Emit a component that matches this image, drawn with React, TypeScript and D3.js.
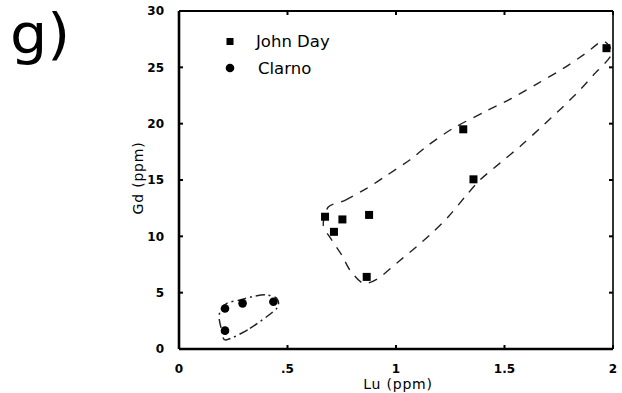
import React from "react";
import * as d3 from "d3";

const W = 622;
const H = 393;

const xTicks = [0, 0.5, 1, 1.5, 2];
const xTickLabels = ["0", ".5", "1", "1.5", "2"];
const yTicks = [0, 5, 10, 15, 20, 25, 30];

// John Day (squares)
const johnDayLu = [1.97, 1.31, 1.357, 0.673, 0.753, 0.876, 0.714, 0.865];
const johnDayGd = [26.7, 19.5, 15.06, 11.74, 11.5, 11.9, 10.4, 6.4];

// Clarno (circles)
const clarnoLu = [0.212, 0.293, 0.435, 0.212];
const clarnoGd = [3.6, 4.05, 4.2, 1.63];

// Envelope around John Day
const jdEnvLu = [0.688, 0.765, 0.865, 0.949, 1.065, 1.149, 1.264, 1.41, 1.533, 1.656, 1.771, 1.871, 1.948, 1.986, 1.986, 1.909, 1.848, 1.764, 1.664, 1.579, 1.479, 1.387, 1.318, 1.241, 1.172, 1.095, 1.011, 0.918, 0.849, 0.788, 0.75, 0.704, 0.665];
const jdEnvGd = [12.6, 13.2, 14.26, 15.3, 16.8, 18.1, 19.6, 21.06, 22.25, 23.6, 24.9, 26.2, 27.3, 26.8, 25.9, 24.3, 23.0, 21.4, 19.6, 18.1, 16.5, 15.0, 13.5, 11.74, 10.4, 9.08, 7.75, 6.27, 5.83, 7.0, 8.34, 9.67, 11.0];

// Envelope around Clarno
const clEnvLu = [0.215, 0.327, 0.45, 0.45, 0.404, 0.35, 0.281, 0.22, 0.189, 0.186, 0.197];
const clEnvGd = [0.8, 1.83, 3.6, 4.5, 4.8, 4.7, 4.35, 4.05, 3.3, 2.57, 1.68];

const FONT = "'DejaVu Sans', sans-serif";

export default function App() {
  const left = 179;
  const right = 613;
  const top = 11;
  const bottom = 349;
  const x = d3.scaleLinear().domain([0, 2]).range([left, right]);
  const y = d3.scaleLinear().domain([0, 30]).range([bottom, top]);

  const line = d3
    .line<[number, number]>()
    .x((d) => x(d[0]))
    .y((d) => y(d[1]))
    .curve(d3.curveCardinalClosed.tension(0.2));

  const jdPath = line(jdEnvLu.map((v, i) => [v, jdEnvGd[i]] as [number, number])) || "";
  const clPath = line(clEnvLu.map((v, i) => [v, clEnvGd[i]] as [number, number])) || "";

  const sq = 8;
  const tickLen = 4;

  return (
    <svg width={W} height={H} style={{ position: "absolute", left: 0, top: 0, background: "#fff" }}>
      <rect x={0} y={0} width={W} height={H} fill="#fff" />
      <text transform="translate(10,53) scale(1.4,1.3)" fontFamily={FONT} fontSize={42} fill="#000">g)</text>

      {/* envelopes */}
      <path d={jdPath} fill="none" stroke="#222" strokeWidth={1.4} strokeDasharray="9,8" />
      <path d={clPath} fill="none" stroke="#222" strokeWidth={1.5} strokeDasharray="9,4,2,4" />

      {/* frame */}
      <line x1={left} x2={left} y1={top} y2={bottom} stroke="#000" strokeWidth={2.6} />
      <line x1={left} x2={right} y1={bottom} y2={bottom} stroke="#000" strokeWidth={2.6} />
      <line x1={left} x2={right} y1={top} y2={top} stroke="#000" strokeWidth={2} />
      <line x1={right} x2={right} y1={top} y2={bottom} stroke="#000" strokeWidth={1.6} />

      {/* ticks */}
      {yTicks.map((t) => (
        <g key={"y" + t}>
          <line x1={left} x2={left + tickLen} y1={y(t)} y2={y(t)} stroke="#000" strokeWidth={2} />
          <line x1={right} x2={right - tickLen} y1={y(t)} y2={y(t)} stroke="#000" strokeWidth={2} />
          <text x={164} y={y(t)} dy="0.36em" textAnchor="end" fontFamily={FONT} fontWeight="bold" fontSize={12} fill="#000">{t}</text>
        </g>
      ))}
      {xTicks.map((t, i) => (
        <g key={"x" + t}>
          <line x1={x(t)} x2={x(t)} y1={bottom} y2={bottom - tickLen} stroke="#000" strokeWidth={2} />
          <line x1={x(t)} x2={x(t)} y1={top} y2={top + tickLen} stroke="#000" strokeWidth={2} />
          <text x={x(t)} y={373} textAnchor="middle" fontFamily={FONT} fontWeight="bold" fontSize={12} fill="#000">{xTickLabels[i]}</text>
        </g>
      ))}

      {/* axis labels */}
      <text x={398} y={389} textAnchor="middle" fontFamily={FONT} fontSize={14} letterSpacing={0.8} fill="#000">Lu  (ppm)</text>
      <text transform="translate(143,178) rotate(-90)" textAnchor="middle" fontFamily={FONT} fontSize={14} letterSpacing={0.8} fill="#000">Gd  (ppm)</text>

      {/* points */}
      {johnDayLu.map((v, i) => (
        <rect key={"jd" + i} x={x(v) - sq / 2} y={y(johnDayGd[i]) - sq / 2} width={sq} height={sq} fill="#000" />
      ))}
      {clarnoLu.map((v, i) => (
        <circle key={"cl" + i} cx={x(v)} cy={y(clarnoGd[i])} r={4.3} fill="#000" />
      ))}

      {/* legend */}
      <rect x={230 - 3.5} y={41.5 - 3.5} width={7} height={7} fill="#000" />
      <text x={256} y={41.5} dy="0.36em" fontFamily={FONT} fontSize={16.5} fill="#000">John Day</text>
      <circle cx={230} cy={68} r={4.3} fill="#000" />
      <text x={258} y={68} dy="0.36em" fontFamily={FONT} fontSize={16.5} fill="#000">Clarno</text>
    </svg>
  );
}
